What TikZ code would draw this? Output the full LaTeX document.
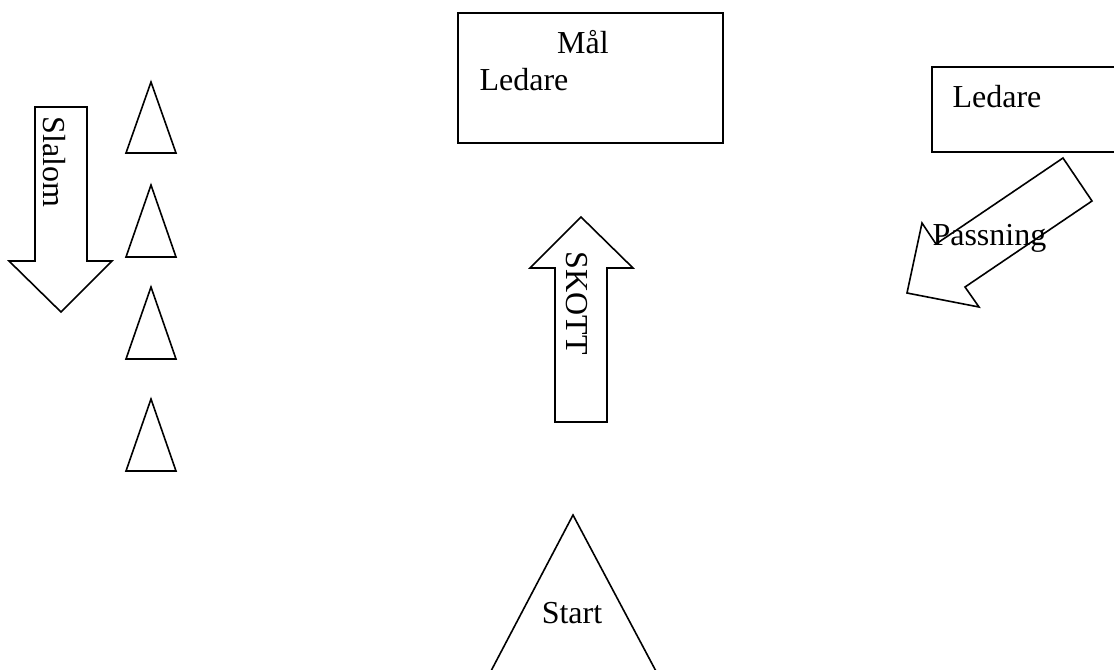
\documentclass[tikz,border=0pt]{standalone}
\usepackage{fontspec}
\setmainfont{Liberation Serif}
\begin{document}
\begin{tikzpicture}[x=0.375pt,y=-0.375pt,
  shape line/.style={draw=black,line width=0.6pt,line join=miter},
  lbl/.style={inner sep=0pt,font=\fontsize{12}{14}\selectfont}]
\useasboundingbox (0,0) rectangle (1114,669);
\clip (0,0) rectangle (1114,669);
% Slalom arrow (down)
\draw[shape line] (35,107) -- (87,107) -- (87,261) -- (112,261) -- (61,312) -- (9,261) -- (35,261) -- cycle;
\node[lbl,rotate=-90] (slalom) at (54,162) {Slalom};
% cones
\draw[shape line] (151,82) -- (176,153) -- (126,153) -- cycle;
\draw[shape line] (151,185) -- (176,257) -- (126,257) -- cycle;
\draw[shape line] (151,287) -- (176,359) -- (126,359) -- cycle;
\draw[shape line] (151,399) -- (176,471) -- (126,471) -- cycle;
% goal box
\draw[shape line] (458,13) rectangle (723,143);
\node[lbl,anchor=base] (mal) at (583,53) {Mål};
\node[lbl,anchor=base west] (ledare1) at (479,90) {Ledare};
% right box
\draw[shape line] (932,67) rectangle (1125,152);
\node[lbl,anchor=base west] (ledare2) at (952,107) {Ledare};
% Passning arrow
\draw[shape line] (1063,158) -- (1092,201) -- (965,287) -- (979,307) -- (907,293) -- (922,223) -- (936,244) -- cycle;
\node[lbl,anchor=base west] (passning) at (932,245) {Passning};
% SKOTT arrow (up)
\draw[shape line] (581,217) -- (633,268) -- (607,268) -- (607,422) -- (555,422) -- (555,268) -- (530,268) -- cycle;
\node[lbl,rotate=-90] (skott) at (577,303) {SKOTT};
% Start triangle
\draw[shape line] (573,515) -- (666,690) -- (481,690) -- cycle;
\node[lbl,anchor=base] (start) at (572,623) {Start};
\end{tikzpicture}
\end{document}
